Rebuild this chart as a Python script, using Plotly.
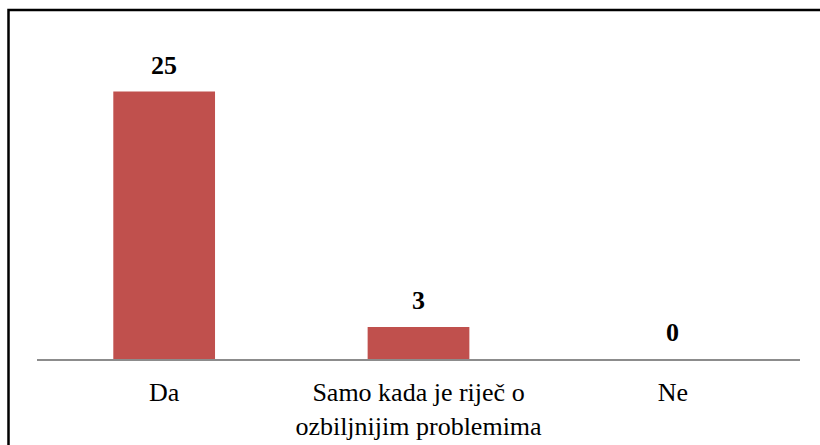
import plotly.graph_objects as go

# Survey answers and counts
categories = ["Da", "Samo kada je riječ o<br>ozbiljnijim problemima", "Ne"]
counts = [25, 3, 0]

bar_color = "#C0504D"
serif = "Liberation Serif"

W, H = 820, 445
m_l, m_r, m_t, m_b = 37, 20, 38, 86

fig = go.Figure()
fig.add_trace(go.Bar(
    x=categories,
    y=counts,
    marker=dict(color=bar_color, line=dict(width=0)),
    width=0.4,
    hoverinfo="x+y",
))

# Bold value labels above each bar
for cat, val in zip(categories, counts):
    fig.add_annotation(
        x=cat, y=val, text=f"<b>{val}</b>",
        showarrow=False, yanchor="bottom", yshift=10,
        font=dict(family=serif, size=26, color="black"),
    )

# Outer frame (left and top edges visible)
plot_w = W - m_l - m_r
plot_h = H - m_t - m_b
x0 = (8.5 - m_l) / plot_w
y1 = 1 + (m_t - 10) / plot_h
fig.add_shape(
    type="rect", xref="paper", yref="paper",
    x0=x0, x1=1.2, y0=-0.5, y1=y1,
    line=dict(color="black", width=2.5),
    fillcolor="rgba(0,0,0,0)",
)

fig.update_layout(
    width=W, height=H,
    margin=dict(l=m_l, r=m_r, t=m_t, b=m_b, autoexpand=False),
    paper_bgcolor="white",
    plot_bgcolor="white",
    showlegend=False,
    bargap=0.6,
    font=dict(family=serif),
    xaxis=dict(
        showline=True, linecolor="#8c8c8c", linewidth=2,
        ticks="", showgrid=False, automargin=False,
        tickfont=dict(family=serif, size=26, color="black"),
        ticklabelstandoff=9,
    ),
    yaxis=dict(
        range=[0, 30], visible=False, showgrid=False, zeroline=False,
        automargin=False,
    ),
)

fig.write_html("out.html")
